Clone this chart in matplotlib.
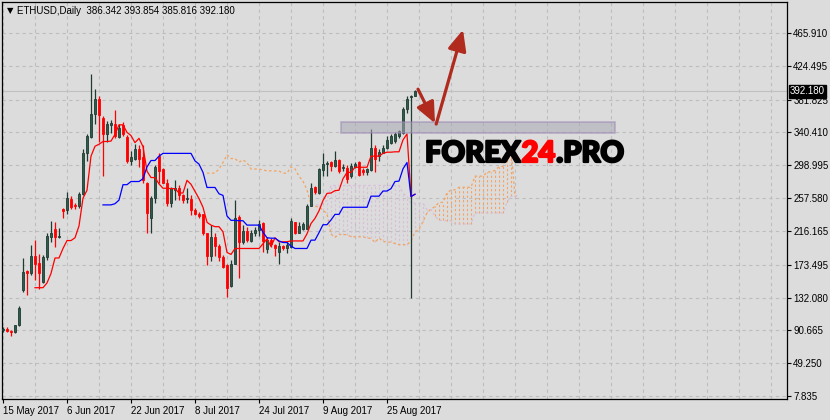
import numpy as np
import pandas as pd
import matplotlib
matplotlib.use("Agg")
import matplotlib.pyplot as plt
import matplotlib.patheffects as pe
from matplotlib.patches import Rectangle
from matplotlib.transforms import blended_transform_factory

# ETHUSD daily candles (bar 0 = 15 May 2017)
opens = [91, 93, 90, 88, 97, 141, 165, 163, 185, 176,
         152, 183, 209, 218, 208, 244, 243, 256, 249, 247,
         263, 315, 335, 364, 383, 359, 339, 350, 351, 335,
         350, 335, 305, 307, 320, 309, 276, 233, 258, 311,
         294, 277, 251, 268, 270, 261, 256, 257, 242, 238,
         237, 213, 185, 209, 197, 183, 173, 147, 175, 234,
         202, 216, 204, 213, 217, 226, 193, 205, 198, 189,
         197, 195, 196, 227, 214, 219, 219, 248, 271, 264,
         293, 300, 303, 298, 306, 295, 296, 286, 297, 303,
         293, 291, 293, 321, 311, 315, 321, 327, 330, 336,
         340, 370, 385, 386.342]
highs = [95, 95, 91, 98, 121, 182, 167, 198, 205, 187,
         186, 214, 229, 227, 220, 245, 265, 260, 252, 265,
         319, 339, 414, 395, 387, 361, 355, 356, 369, 351,
         353, 337, 317, 326, 324, 325, 278, 260, 299, 314,
         296, 282, 271, 281, 274, 263, 270, 261, 245, 240,
         237, 213, 223, 213, 200, 186, 175, 179, 255, 236,
         223, 221, 217, 221, 230, 227, 208, 207, 200, 202,
         199, 202, 232, 228, 227, 228, 250, 276, 273, 295,
         315, 305, 305, 317, 307, 301, 299, 302, 303, 305,
         295, 296, 345, 324, 320, 324, 336, 339, 341, 344,
         372, 387, 388, 393.854]
lows = [89, 88, 84, 87, 96, 139, 135, 161, 154, 143,
        150, 180, 202, 196, 207, 232, 237, 244, 244, 245,
        262, 305, 334, 351, 328, 286, 328, 340, 334, 334,
        336, 302, 299, 306, 297, 276, 214, 214, 251, 277,
        276, 248, 246, 255, 255, 251, 252, 236, 236, 232,
        211, 173, 178, 185, 178, 169, 133, 145, 174, 157,
        200, 202, 202, 210, 210, 189, 188, 196, 185, 175,
        192, 188, 194, 212, 213, 217, 218, 247, 263, 263,
        286, 286, 292, 297, 289, 292, 276, 283, 295, 286,
        287, 287, 292, 290, 305, 314, 320, 326, 327, 333,
        339, 365, 131, 385.816]
closes = [93, 90, 88, 97, 119, 164, 163, 185, 175, 163,
          183, 210, 213, 208, 210, 241, 258, 246, 247, 263,
          315, 336, 364, 383, 362, 339, 351, 352, 336, 346,
          338, 305, 309, 320, 307, 280, 239, 258, 297, 292,
          277, 251, 270, 270, 261, 255, 258, 242, 238, 235,
          213, 185, 209, 197, 183, 171, 144, 175, 232, 202,
          216, 205, 214, 217, 225, 204, 205, 200, 194, 197,
          195, 199, 229, 214, 222, 225, 248, 270, 265, 294,
          301, 302, 298, 306, 292, 297, 282, 298, 301, 287,
          290, 294, 321, 307, 316, 321, 331, 336, 339, 342,
          370, 383, 386, 392.180]

date_labels = ["15 May 2017", "6 Jun 2017", "22 Jun 2017", "8 Jul 2017",
               "24 Jul 2017", "9 Aug 2017", "25 Aug 2017"]
price_ticks = [7.835, 49.250, 90.665, 132.080, 173.495, 216.165,
               257.580, 298.995, 340.410, 381.825, 424.495, 465.910]
last_price = 392.180
header = "ETHUSD,Daily  386.342 393.854 385.816 392.180"

# hand drawn annotations (bar index, price)
zone_bars = (84.5, 153.0)
zone_prices = (339.7, 353.6)
arrow_down = ((103.75, 395.0), (108.0, 352.0))
arrow_up = ((108.3, 351.0), (115.0, 470.0))

BG = "#dcdcdc"
BULL = "#2e5c4c"
BULL_EDGE = "#1f3a31"
BEAR = "#ff0000"
ARROW = "#b02a1e"

df = pd.DataFrame({"open": opens, "high": highs, "low": lows, "close": closes})
n = len(df)
x = np.arange(n)


def midline(period):
    return (df["high"].rolling(period).max() + df["low"].rolling(period).min()) / 2


# Ichimoku (9, 26, 52)
tenkan = midline(9)
kijun = midline(26)
span_a = (tenkan + kijun) / 2
span_b = midline(52)
shift = 26
xs = x + shift

plt.rcParams["font.family"] = ["Liberation Sans", "DejaVu Sans"]
fig = plt.figure(figsize=(8.3, 4.2), dpi=100, facecolor=BG)
ax = fig.add_axes([2 / 830, 21 / 420, 785 / 830, 397 / 420], facecolor=BG)
ax.set_xlim(-0.25, 196)
ax.set_ylim(4.05, 505.03)

# cloud hatching
both = span_a.notna() & span_b.notna()
lo = np.minimum(span_a[both], span_b[both])
hi = np.maximum(span_a[both], span_b[both])
cols = np.where(span_a[both] >= span_b[both], "#f4a460", "#d8bfd8")
ax.vlines(xs[both], lo, hi, colors=cols, linestyles=(0, (2, 2)), lw=0.8, zorder=1.5)
ax.plot(xs, span_a, color="#f4a460", ls=(0, (2, 2)), lw=0.9, zorder=1.6)
ax.plot(xs, span_b, color="#d8bfd8", ls=(0, (2, 2)), lw=0.9, zorder=1.6)

ax.axhline(last_price, color="#c0c0c0", lw=0.8, zorder=1.2)

# candles
up = df["close"] >= df["open"]
ax.vlines(x[up], df["low"][up], df["high"][up], color=BULL_EDGE, lw=0.9, zorder=3)
ax.vlines(x[~up], df["low"][~up], df["high"][~up], color=BEAR, lw=0.9, zorder=3)
body_lo = np.minimum(df["open"], df["close"])
body_h = np.maximum((df["close"] - df["open"]).abs(), 0.8)
ax.bar(x[up], body_h[up], bottom=body_lo[up], width=0.6, color=BULL,
       edgecolor=BULL_EDGE, lw=0.6, zorder=3.1)
ax.bar(x[~up], body_h[~up], bottom=body_lo[~up], width=0.6, color=BEAR,
       edgecolor=BEAR, lw=0.6, zorder=3.1)

ax.plot(x, tenkan, color="red", lw=0.9, zorder=3.5)
ax.plot(x, kijun, color="blue", lw=0.9, zorder=3.5)

# support zone + arrows
ax.add_patch(Rectangle((zone_bars[0], zone_prices[0]), zone_bars[1] - zone_bars[0],
                       zone_prices[1] - zone_prices[0], facecolor="#a8a8b4", alpha=0.55,
                       edgecolor="#9b84b4", lw=1.2, zorder=4))
for (x0, y0), (x1, y1) in (arrow_down, arrow_up):
    ax.annotate("", xy=(x1, y1), xytext=(x0, y0),
                arrowprops=dict(arrowstyle="-|>,head_length=0.9,head_width=0.4",
                                color=ARROW, lw=2.3, shrinkA=0, shrinkB=0,
                                mutation_scale=14),
                zorder=5)

# axes / grid
ax.yaxis.tick_right()
ax.set_yticks(price_ticks)
ax.set_yticklabels([f"{v:.3f}" for v in price_ticks])
ax.set_xticks(np.arange(len(date_labels)) * 16)
ax.set_xticklabels(date_labels)
ax.set_xticks(np.arange(8, 196, 8), minor=True)
for lab in ax.get_xticklabels():
    lab.set_ha("left")
ax.tick_params(axis="y", which="major", direction="out", length=3, width=0.8,
               labelsize=7, pad=1.5, colors="black")
ax.tick_params(axis="x", which="major", direction="out", length=3, width=0.8,
               labelsize=7, pad=2, colors="black")
ax.tick_params(axis="x", which="minor", length=0)
ax.set_axisbelow(True)
ax.grid(True, which="both", axis="x", ls=(0, (3, 3)), color="#bdbdbd", lw=0.8)
ax.grid(True, which="major", axis="y", ls=(0, (3, 3)), color="#bdbdbd", lw=0.8)
for s in ax.spines.values():
    s.set_color("black")
    s.set_linewidth(0.9)

# last price tag
tr = blended_transform_factory(ax.transAxes, ax.transData)
ax.text(1.004, last_price, f"{last_price:.3f}", transform=tr, color="white", fontsize=7,
        va="center", ha="left", zorder=6, clip_on=False,
        bbox=dict(boxstyle="square,pad=0.12", fc="black", ec="black"))

# header
fig.text(7 / 830, 1 - 11 / 420, "\u25bc", fontsize=6, va="center", ha="left",
         family=["DejaVu Sans"])
fig.text(17 / 830, 1 - 11 / 420, header, fontsize=7, va="center", ha="left")

# watermark
fig.canvas.draw()
renderer = fig.canvas.get_renderer()
px = 425
base = 1 - 162 / 420
for part, col in (("FOREX", "black"), ("24", "#ff0000"), (".PRO", "black")):
    t = fig.text(px / 830, base, part, fontsize=21, color=col, va="baseline", ha="left",
                 family=["Lato", "DejaVu Sans"], fontweight="black", zorder=10,
                 path_effects=[pe.withStroke(linewidth=1.6, foreground=col)])
    px = t.get_window_extent(renderer).x1 + 1

fig.savefig("out.png", dpi=100, facecolor=BG)
